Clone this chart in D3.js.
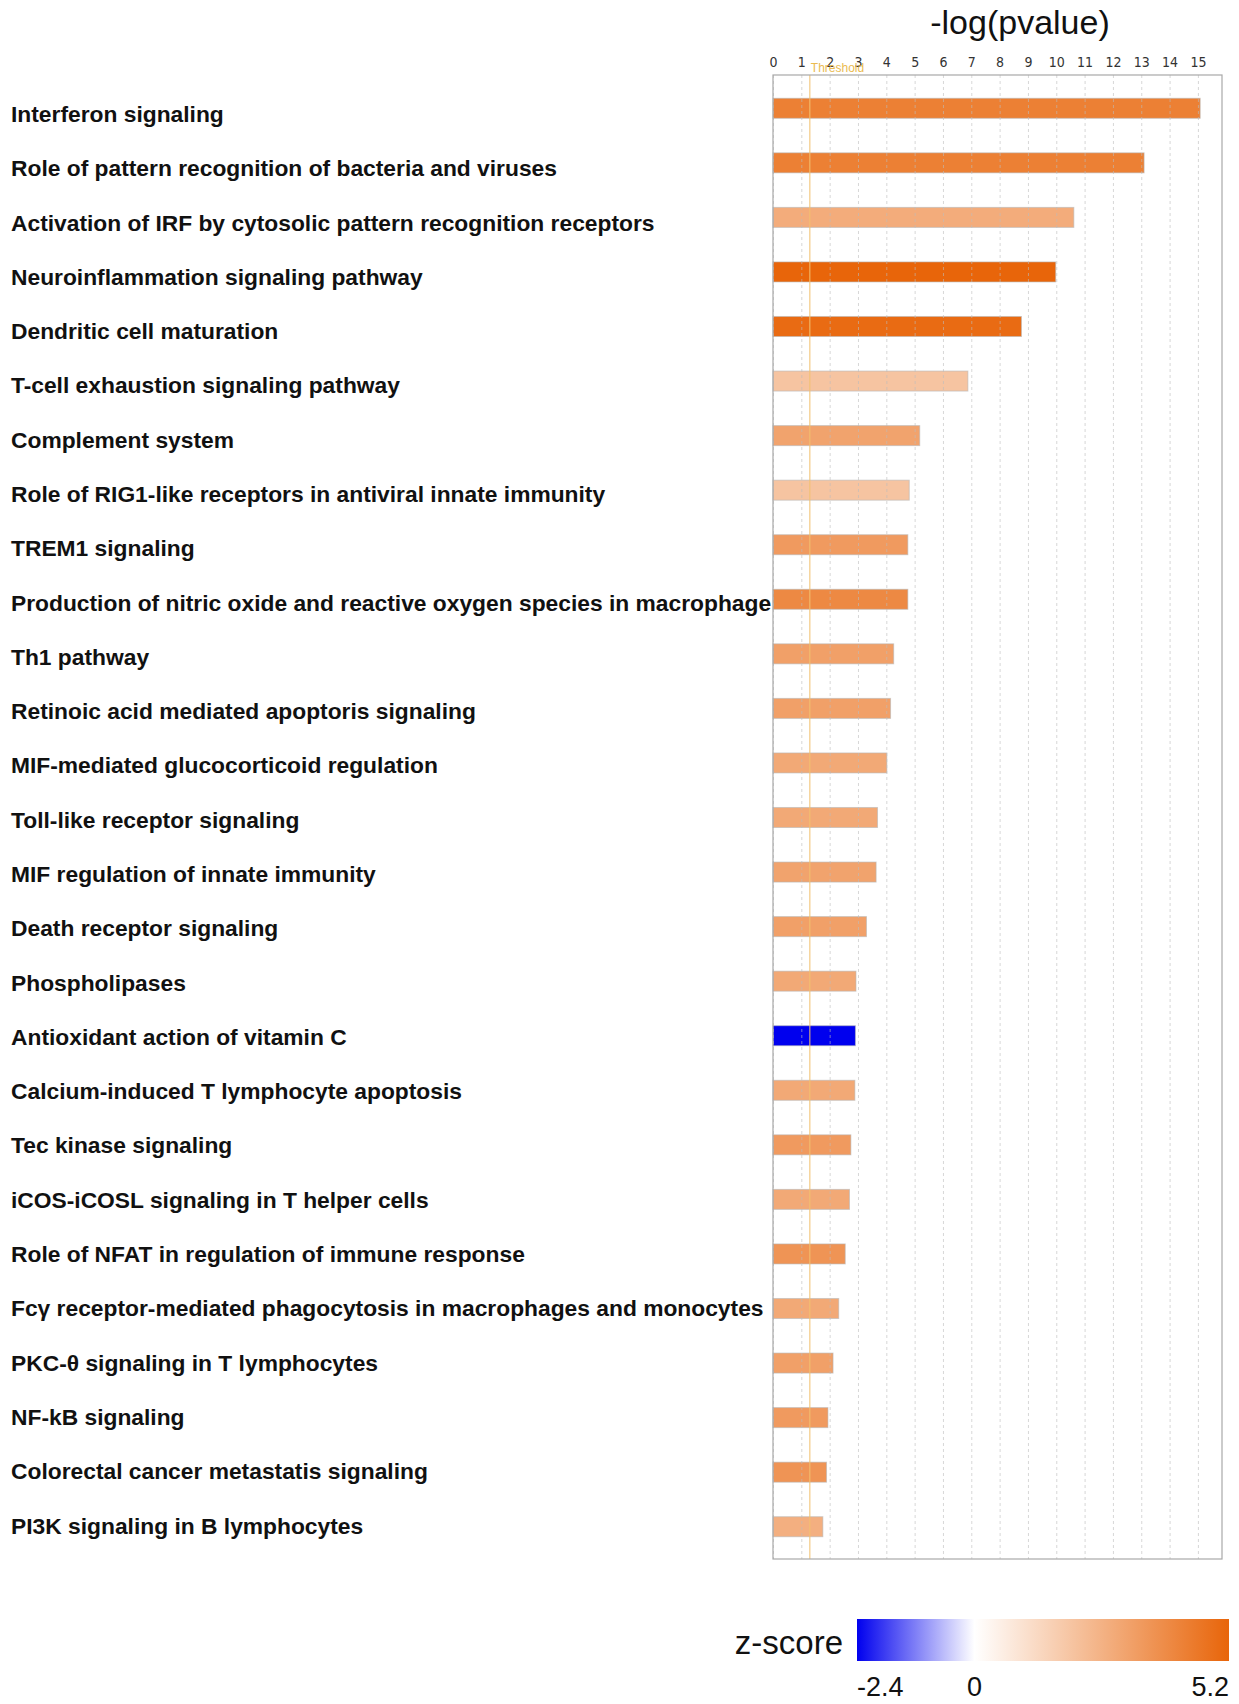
<!DOCTYPE html>
<html>
<head>
<meta charset="utf-8">
<script src="https://cdn.jsdelivr.net/npm/d3@7"></script>
<style>
  body { margin: 0; background: white; }
</style>
</head>
<body>
<svg id="chart"></svg>
<script>

// pathway names, top to bottom
let pathways = [
    "Interferon signaling",
    "Role of pattern recognition of bacteria and viruses",
    "Activation of IRF by cytosolic pattern recognition receptors",
    "Neuroinflammation signaling pathway",
    "Dendritic cell maturation",
    "T-cell exhaustion signaling pathway",
    "Complement system",
    "Role of RIG1-like receptors in antiviral innate immunity",
    "TREM1 signaling",
    "Production of nitric oxide and reactive oxygen species in macrophage",
    "Th1 pathway",
    "Retinoic acid mediated apoptoris signaling",
    "MIF-mediated glucocorticoid regulation",
    "Toll-like receptor signaling",
    "MIF regulation of innate immunity",
    "Death receptor signaling",
    "Phospholipases",
    "Antioxidant action of vitamin C",
    "Calcium-induced T lymphocyte apoptosis",
    "Tec kinase signaling",
    "iCOS-iCOSL signaling in T helper cells",
    "Role of NFAT in regulation of immune response",
    "Fcγ receptor-mediated phagocytosis in macrophages and monocytes",
    "PKC-θ signaling in T lymphocytes",
    "NF-kB signaling",
    "Colorectal cancer metastatis signaling",
    "PI3K signaling in B lymphocytes"
];

// -log(pvalue)
let negLogP = [15.08, 13.10, 10.62, 9.98, 8.77, 6.88, 5.18, 4.81, 4.76, 4.76,
    4.26, 4.15, 4.02, 3.69, 3.64, 3.30, 2.93, 2.91, 2.89, 2.75,
    2.70, 2.55, 2.32, 2.12, 1.94, 1.89, 1.76];

// activation z-score
let zScores = [4.3, 4.3, 2.8, 5.2, 5.0, 2.0, 3.1, 2.0, 3.4, 4.0,
    3.2, 3.2, 2.9, 2.9, 3.1, 3.2, 2.9, -2.4, 2.9, 3.4,
    2.9, 3.6, 2.9, 3.2, 3.4, 3.6, 2.7];

let xTicks = d3.range(0, 16);
let threshold = 1.3;
let zDomain = [-2.4, 0, 5.2];
let zTickLabels = ["-2.4", "0", "5.2"];


function makeChart(id) {

    let width = 1239;
    let height = 1704;

    let plot = {left: 773, right: 1222, top: 75, bottom: 1559};

    let chart = d3.select("#" + id)
        .attr("width", width)
        .attr("height", height)
        .style("font-family", "'Liberation Sans', Arial, sans-serif");

    chart.append("rect")
        .attr("width", width)
        .attr("height", height)
        .style("fill", "white");

    let dataset = pathways.map((p, i) => ({name: p, value: negLogP[i], z: zScores[i]}));

    let xScale = d3.scaleLinear().domain([0, 15.85]).range([plot.left, plot.right]);
    let yScale = d3.scaleBand().domain(pathways).range([81, 1554])
        .paddingInner(0.633).paddingOuter(0.3165);
    let labelScale = d3.scalePoint().domain(pathways).range([114, 1525.5]);
    let colorScale = d3.scaleLinear().domain(zDomain).range(["#0000ee", "#ffffff", "#e8650a"]);

    // title
    chart.append("text")
        .attr("x", 1020)
        .attr("y", 34)
        .attr("text-anchor", "middle")
        .style("font-size", "34px")
        .style("fill", "#111")
        .text("-log(pvalue)");

    // bars
    chart.selectAll(".bar").data(dataset).enter().append("rect").attr("class", "bar")
        .attr("x", xScale(0))
        .attr("y", d => yScale(d.name))
        .attr("width", d => xScale(d.value) - xScale(0))
        .attr("height", yScale.bandwidth())
        .style("fill", d => colorScale(d.z))
        .style("stroke", "#b8b8b8")
        .style("stroke-opacity", 0.6)
        .style("stroke-width", 1);

    // top axis with dashed grid
    let axis = chart.append("g")
        .attr("transform", `translate(0,${plot.top})`)
        .call(d3.axisTop(xScale).tickValues(xTicks).tickSize(-(plot.bottom - plot.top)).tickPadding(8));
    axis.select(".domain").remove();
    axis.selectAll(".tick line")
        .style("stroke", "#bdbdbd")
        .style("stroke-opacity", 0.6)
        .style("stroke-dasharray", "3,3");
    axis.selectAll(".tick text")
        .style("font-family", "'Liberation Sans Narrow', 'Arial Narrow', 'DejaVu Sans Condensed', sans-serif")
        .style("font-size", "14px")
        .style("fill", "#333");

    // threshold
    chart.append("line")
        .attr("x1", xScale(threshold)).attr("x2", xScale(threshold))
        .attr("y1", plot.top).attr("y2", plot.bottom)
        .style("stroke", "#f3c170")
        .style("stroke-width", 1.2)
        .style("opacity", 0.85);
    chart.append("text")
        .attr("x", xScale(threshold) + 1)
        .attr("y", plot.top - 3)
        .style("font-size", "12px")
        .style("fill", "#e9b43c")
        .style("opacity", 0.9)
        .text("Threshold");

    // frame
    chart.append("rect")
        .attr("x", plot.left)
        .attr("y", plot.top)
        .attr("width", plot.right - plot.left)
        .attr("height", plot.bottom - plot.top)
        .style("fill", "none")
        .style("stroke", "#a8a8a8")
        .style("stroke-width", 1.2);

    // pathway labels
    chart.selectAll(".label").data(dataset).enter().append("text").attr("class", "label")
        .attr("x", 11)
        .attr("y", d => labelScale(d.name))
        .attr("dominant-baseline", "central")
        .style("font-size", "22.8px")
        .style("font-weight", "bold")
        .style("fill", "#111")
        .text(d => d.name);

    // z-score legend
    let legend = {left: 857, right: 1229, top: 1619, bottom: 1661};
    let lScale = d3.scaleLinear().domain([zDomain[0], zDomain[2]]).range([legend.left, legend.right]);

    let grad = chart.append("defs").append("linearGradient").attr("id", "zgrad");
    grad.selectAll("stop").data(zDomain).enter().append("stop")
        .attr("offset", d => (lScale(d) - legend.left) / (legend.right - legend.left))
        .attr("stop-color", d => colorScale(d));

    chart.append("rect")
        .attr("x", legend.left)
        .attr("y", legend.top)
        .attr("width", legend.right - legend.left)
        .attr("height", legend.bottom - legend.top)
        .style("fill", "url(#zgrad)");

    chart.append("text")
        .attr("x", 843)
        .attr("y", 1654)
        .attr("text-anchor", "end")
        .style("font-size", "33px")
        .style("fill", "#111")
        .text("z-score");

    chart.selectAll(".ztick").data(zDomain).enter().append("text").attr("class", "ztick")
        .attr("x", d => lScale(d))
        .attr("y", 1696)
        .attr("text-anchor", (d, i) => i === 0 ? "start" : (i === 2 ? "end" : "middle"))
        .style("font-size", "27px")
        .style("fill", "#111")
        .text((d, i) => zTickLabels[i]);
}

makeChart("chart");
</script>
</body>
</html>
